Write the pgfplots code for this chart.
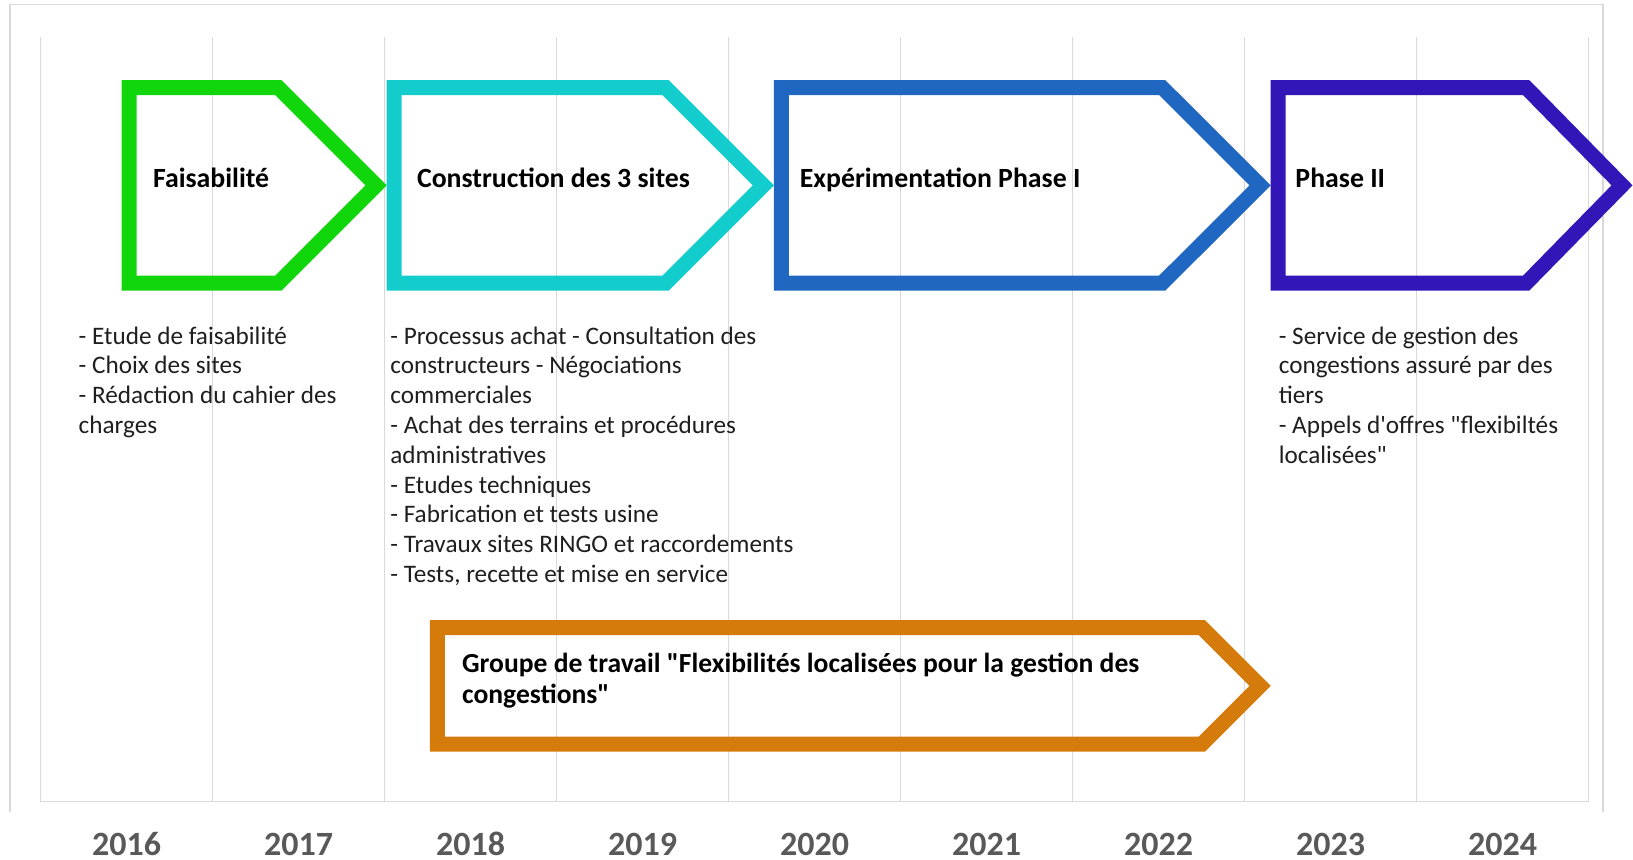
\documentclass[border=0pt]{standalone}
\usepackage{fontspec}
\setmainfont{Carlito}[Ligatures=TeXOff]
\usepackage{pgfplots}
\pgfplotsset{compat=1.18}
\definecolor{cgreen}{HTML}{12D60C}
\definecolor{ccyan}{HTML}{12CDCB}
\definecolor{cblue}{HTML}{1F67C0}
\definecolor{cpurple}{HTML}{3316B8}
\definecolor{corange}{HTML}{D47B0B}
\definecolor{gridgray}{HTML}{D9D9D9}
\definecolor{yeargray}{HTML}{595959}
\definecolor{bodytext}{HTML}{1E1E1E}
\newcommand{\hfont}{\fontsize{13.9}{16.5}\selectfont\bfseries}
\newcommand{\bfont}{\fontsize{12.6}{15}\selectfont}
\begin{document}
\begin{tikzpicture}
\begin{axis}[
  width=774pt, height=382.5pt, scale only axis,
  xmin=0, xmax=9, ymin=57.3, ymax=822.3,
  axis x line*=bottom, axis y line=none,
  x axis line style={draw=gridgray, line width=0.75pt},
  xtick={0.5,1.5,2.5,3.5,4.5,5.5,6.5,7.5,8.5},
  xticklabels={2016,2017,2018,2019,2020,2021,2022,2023,2024},
  minor xtick={0,1,2,3,4,5,6,7,8,9},
  xminorgrids=true, xmajorgrids=false,
  minor grid style={draw=gridgray, line width=0.6pt},
  major tick length=0pt, minor tick length=0pt,
  xticklabel style={font=\fontsize{17}{20}\selectfont\bfseries, text=yeargray, anchor=base, yshift=-26.9pt, inner sep=0pt},
  ytick=\empty,
  clip=false,
  every axis plot/.append style={mark=none, line width=7.5pt, line join=miter, line cap=butt},
]
% bounding box of the whole picture
\path (axis cs:-0.2355,0) rectangle (axis cs:9.2587,859);
% outer frame
\draw[gridgray, line width=0.75pt] (axis cs:-0.1773,47) -- (axis cs:-0.1773,854.7) -- (axis cs:9.084,854.7) -- (axis cs:9.084,47);

% phase arrows
\addplot[draw=cgreen] coordinates {(0.5157,673.65) (0.5157,771.5) (1.382,771.5) (1.951,673.65) (1.382,575.8) (0.5157,575.8) (0.5157,673.65)};
\addplot[draw=ccyan] coordinates {(2.056,673.65) (2.056,771.5) (3.634,771.5) (4.203,673.65) (3.634,575.8) (2.056,575.8) (2.056,673.65)};
\addplot[draw=cblue] coordinates {(4.308,673.65) (4.308,771.5) (6.521,771.5) (7.091,673.65) (6.521,575.8) (4.308,575.8) (4.308,673.65)};
\addplot[draw=cpurple] coordinates {(7.196,673.65) (7.196,771.5) (8.637,771.5) (9.195,673.65) (8.637,575.8) (7.196,575.8) (7.196,673.65)};
\addplot[draw=corange] coordinates {(2.308,173.15) (2.308,231.5) (6.751,231.5) (7.091,173.15) (6.751,114.8) (2.308,114.8) (2.308,173.15)};

% headings
\node[anchor=base west, inner sep=0pt, font=\hfont] at (axis cs:0.652,671.5) {Faisabilité};
\node[anchor=base west, inner sep=0pt, font=\hfont] at (axis cs:2.187,671.5) {Construction des 3 sites};
\node[anchor=base west, inner sep=0pt, font=\hfont] at (axis cs:4.412,671.5) {Expérimentation Phase I};
\node[anchor=base west, inner sep=0pt, font=\hfont] at (axis cs:7.294,671.5) {Phase II};

% orange text
\node[anchor=base west, inner sep=0pt, font=\fontsize{13.8}{16}\selectfont\bfseries] at (axis cs:2.449,186.3) {Groupe de travail "Flexibilités localisées pour la gestion des};
\node[anchor=base west, inner sep=0pt, font=\fontsize{13.8}{16}\selectfont\bfseries] at (axis cs:2.449,155.7) {congestions"};

% green bullets
\begin{scope}[every node/.style={anchor=base west, inner sep=0pt, font=\bfont, text=bodytext}]
\node at (axis cs:0.22,515) {- Etude de faisabilité};
\node at (axis cs:0.22,485.2) {- Choix des sites};
\node at (axis cs:0.22,455.4) {- Rédaction du cahier des};
\node at (axis cs:0.22,425.6) {charges};
% cyan bullets
\node at (axis cs:2.032,515) {- Processus achat - Consultation des};
\node at (axis cs:2.032,485.2) {constructeurs - Négociations};
\node at (axis cs:2.032,455.4) {commerciales};
\node at (axis cs:2.032,425.6) {- Achat des terrains et procédures};
\node at (axis cs:2.032,395.8) {administratives};
\node at (axis cs:2.032,366) {- Etudes techniques};
\node at (axis cs:2.032,336.2) {- Fabrication et tests usine};
\node at (axis cs:2.032,306.4) {- Travaux sites RINGO et raccordements};
\node at (axis cs:2.032,276.6) {- Tests, recette et mise en service};
% purple bullets
\node at (axis cs:7.197,515) {- Service de gestion des};
\node at (axis cs:7.197,485.2) {congestions assuré par des};
\node at (axis cs:7.197,455.4) {tiers};
\node at (axis cs:7.197,425.6) {- Appels d'offres "flexibiltés};
\node at (axis cs:7.197,395.8) {localisées"};
\end{scope}
\end{axis}
\end{tikzpicture}
\end{document}
